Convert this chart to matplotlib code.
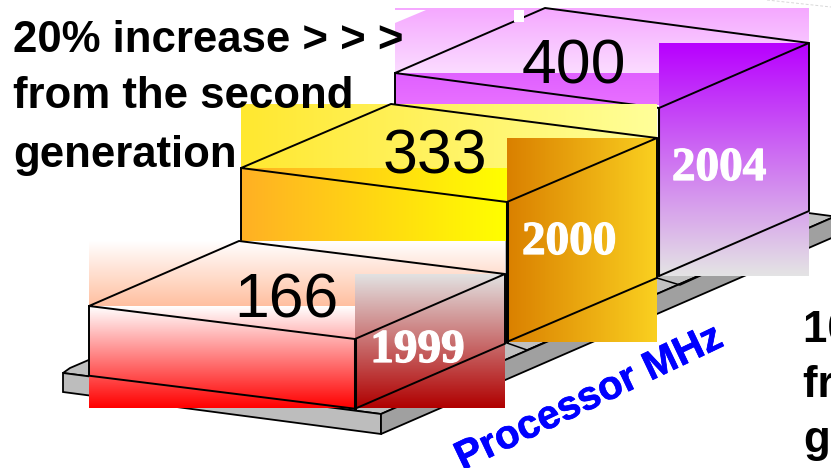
import numpy as np
import matplotlib
matplotlib.use("Agg")
import matplotlib.pyplot as plt
import matplotlib.patheffects as pe
from matplotlib.colors import LinearSegmentedColormap, to_rgb
from matplotlib.patches import Polygon

# ---- data ----
years = ["1999", "2000", "2004"]
mhz = [166, 333, 400]
axis_label = "Processor MHz"
left_note = ["20% increase > > >", "from the second", "generation"]
right_note = ["10% increase > > >", "from the first", "generation"]

# ---- layout (pixels) ----
W, H = 831, 468
PX_PER_MHZ = 0.42
SANS = "Liberation Sans"
SERIF = "Liberation Serif"

fig = plt.figure(figsize=(W / 100, H / 100), dpi=100)
ax = fig.add_axes([0, 0, 1, 1])
ax.set_axis_off()


def grad(x0, x1, y0, y1, c0, c1, horizontal=False, z=1):
    cm = LinearSegmentedColormap.from_list("g", [to_rgb(c0), to_rgb(c1)])
    t = np.linspace(0, 1, 256)
    arr = t[None, :] if horizontal else t[:, None]
    ax.imshow(arr, cmap=cm, extent=(x0, x1, y1, y0), aspect="auto",
              interpolation="bilinear", zorder=z, vmin=0, vmax=1)


def line(pts, z, lw=1.4):
    xs, ys = zip(*pts)
    ax.plot(xs, ys, color="black", lw=lw, zorder=z, solid_capstyle="round",
            solid_joinstyle="round")


# ---- base plate ----
plate_top = [(63, 373), (381, 414), (835, 216.5), (520, 175), (70, 368)]
ax.add_patch(Polygon(plate_top, closed=True, fc="#c0c0c0", ec="black", lw=1.3, zorder=0.2))
ax.add_patch(Polygon([(63, 373), (381, 414), (381, 434), (63, 392)], closed=True,
                     fc="#bdbdbd", ec="black", lw=1.3, zorder=0.3))
ax.add_patch(Polygon([(381, 414), (835, 216.5), (835, 236.5), (381, 434)], closed=True,
                     fc="#a0a0a0", ec="black", lw=1.3, zorder=0.3))
line([(507, 343), (527, 350), (550, 340)], 0.4, 1.1)
line([(657, 278), (680, 285), (702, 275)], 0.4, 1.1)
ax.plot([767, 831], [0, 7], color="#d8d8d8", lw=0.7, ls=(0, (3, 2)), zorder=0.1)

# ---- box geometry: front-top-left, width vector, depth vector ----
boxes = [
    dict(ftl=(89, 306), w=(266, 33), d=(150, -65), z=30,
         top=("#ffffff", "#ffbfa0", False), front=("#ffffff", "#ff0000", False),
         right=("#e2e2e2", "#b00000", False), rect_bottom=408),
    dict(ftl=(241, 168), w=(266, 34), d=(150, -64), z=20,
         top=("#ffe830", "#ffff99", True), front=("#ffb024", "#ffff00", True),
         right=("#da8000", "#fad020", True), rect_bottom=342),
    dict(ftl=(395, 73), w=(264, 35), d=(150, -65), z=10,
         top=("#f5a8ff", "#fbdcff", False), front=("#e060ff", "#e870ff", False),
         right=("#b800ff", "#e4e4e4", False), rect_bottom=276),
]
label_pos = [(286, 317), (435, 174), (573.5, 83)]
year_pos = [(417.5, 362), (569, 254), (719, 180)]
front_rect_bottom = [408, 241, 105]

for i in [2, 1, 0]:
    b = boxes[i]
    h = mhz[i] * PX_PER_MHZ
    z = b["z"]
    fx, fy = b["ftl"]
    wx, wy = b["w"]
    dx, dy = b["d"]
    A = (fx, fy)
    B = (fx + wx, fy + wy)
    C = (fx + wx + dx, fy + wy + dy)
    D = (fx + dx, fy + dy)
    B2 = (B[0], B[1] + h)
    C2 = (C[0], C[1] + h)
    A2 = (A[0], A[1] + h)

    grad(A[0], C[0], D[1], A[1], *b["top"][:2], horizontal=b["top"][2], z=z)
    grad(A[0], B[0], A[1], front_rect_bottom[i], *b["front"][:2], horizontal=b["front"][2], z=z)
    grad(B[0], C[0], C[1], b["rect_bottom"], *b["right"][:2], horizontal=b["right"][2], z=z + 0.5)
    line([A, B, C, D, A], z + 1)
    line([B2, C2, C], z + 1)
    if i == 0:
        line([A, A2, B2], z + 1)
    else:
        # the front and lower part of the rear blocks sit behind the block in front
        line([A, (A[0], front_rect_bottom[i] - 1)], z + 1)
    line([B, B2], z + 1, 2.2 if i < 2 else 1.5)
    ax.text(label_pos[i][0], label_pos[i][1], str(mhz[i]), family=SANS, fontsize=45,
            ha="center", va="baseline", color="black", zorder=z + 2)
    ax.text(year_pos[i][0], year_pos[i][1], years[i], family=SERIF, fontsize=34,
            weight="bold", ha="center", va="baseline", color="white", zorder=z + 2,
            path_effects=[pe.withStroke(linewidth=0.9, foreground="white")])

# small white knock-outs at the top of the purple block
ax.add_patch(Polygon([(395, 10), (426, 10), (395, 23)], closed=True, fc="white", ec="none", zorder=14))
ax.add_patch(Polygon([(514, 10), (524, 10), (524, 22), (514, 22)], closed=True, fc="white", ec="none", zorder=14))

# ---- notes ----
for s, y in zip(left_note, [52, 108, 167]):
    ax.text(13, y, s, family=SANS, weight="bold", fontsize=31.5, ha="left", va="baseline",
            color="black", zorder=50)
for s, y in zip(right_note, [342, 397, 452]):
    ax.text(803, y, s, family=SANS, weight="bold", fontsize=31.5, ha="left", va="baseline",
            color="black", zorder=50)

ax.text(589, 398, axis_label, family=SANS, weight="bold", fontsize=29, color="#0000ff",
        rotation=25.5, rotation_mode="anchor", ha="center", va="center", zorder=50,
        path_effects=[pe.withStroke(linewidth=0.5, foreground="#0000ff")])

ax.set_xlim(0, W)
ax.set_ylim(H, 0)
fig.savefig("out.png", dpi=100, facecolor="white")
